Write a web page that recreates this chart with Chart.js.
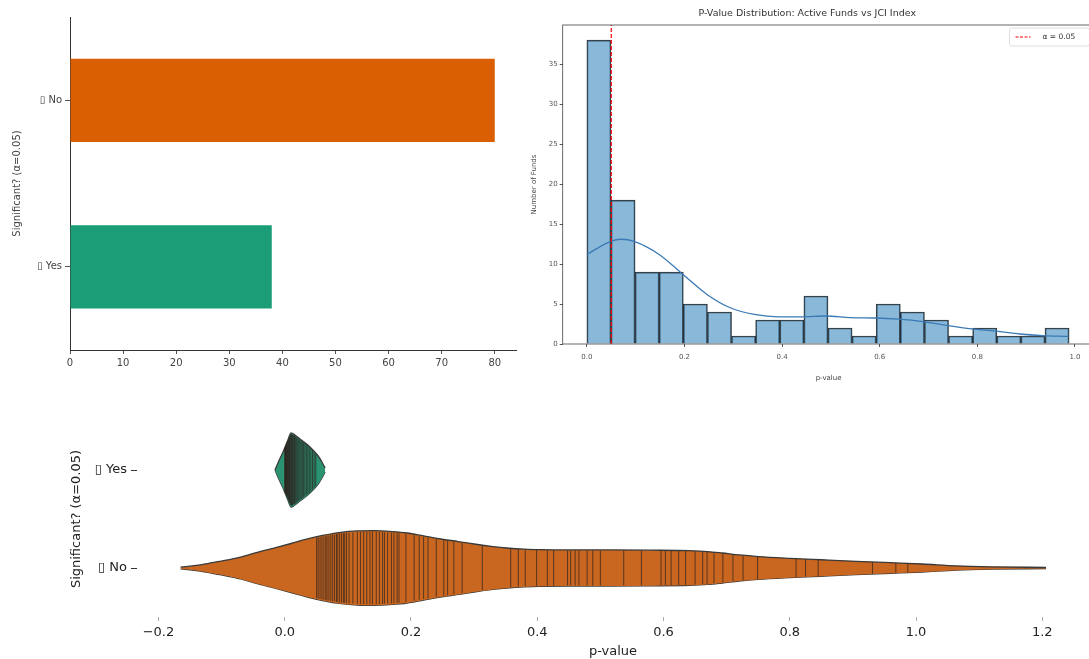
<!DOCTYPE html>
<html>
<head>
<meta charset="utf-8">
<script src="https://cdn.jsdelivr.net/npm/chart.js@4.4.1/dist/chart.umd.min.js"></script>
<style>
  html, body { margin: 0; padding: 0; background: #fff; overflow: hidden; }
  body { width: 1089px; height: 659px; position: relative; }
  .panel { position: absolute; }
</style>
</head>
<body>
<div class="panel" style="left:0;top:0;width:530px;height:380px"><canvas id="countChart"></canvas></div>
<div class="panel" style="left:520px;top:0;width:580px;height:400px"><canvas id="histChart"></canvas></div>
<div class="panel" style="left:0;top:400px;width:1089px;height:259px"><canvas id="violinChart"></canvas></div>
<script>
// ---- data ----
const sigLabels = ['\u25AF No', '\u25AF Yes'];
const sigCounts = [80, 38];
const sigColors = ['#d95f02', '#1b9e77'];
const countTicks = [0, 10, 20, 30, 40, 50, 60, 70, 80];

// histogram (20 bins)
const binEdges = [0, 0.0494, 0.0988, 0.1482, 0.1976, 0.247, 0.2964, 0.3458, 0.3952, 0.4446, 0.494,
  0.5434, 0.5928, 0.6422, 0.6916, 0.741, 0.7904, 0.8398, 0.8892, 0.9386, 0.988];
const histCounts = [38, 18, 9, 9, 5, 4, 1, 3, 3, 6, 2, 1, 5, 4, 3, 1, 2, 1, 1, 2];
const kdeX = [0, 0.048, 0.07, 0.098, 0.148, 0.197, 0.246, 0.295, 0.343, 0.393, 0.44, 0.49, 0.54,
  0.59, 0.638, 0.688, 0.74, 0.788, 0.838, 0.887, 0.934, 0.985];
const kdeY = [11.2, 12.8, 13.1, 12.8, 11.2, 8.7, 6.2, 4.5, 3.7, 3.4, 3.4, 3.5, 3.3, 3.25, 3.1, 2.8,
  2.3, 1.9, 1.6, 1.25, 1.05, 0.95];
const alphaLevel = 0.05;
const histXTicks = [0, 0.2, 0.4, 0.6, 0.8, 1.0];
const histYTicks = [0, 5, 10, 15, 20, 25, 30, 35];

// violin: p-values per group and the outline widths (category units)
const yesPValues = [0.0002, 0.0005, 0.0009, 0.0013, 0.0018, 0.0024, 0.0030, 0.0037, 0.0044, 0.0052,
  0.0060, 0.0068, 0.0076, 0.0085, 0.0094, 0.0103, 0.0112, 0.0122, 0.0132, 0.0143, 0.0155, 0.0167,
  0.0180, 0.0194, 0.0209, 0.0225, 0.0242, 0.0260, 0.0279, 0.0299, 0.0320, 0.0342, 0.0365, 0.0389,
  0.0414, 0.0440, 0.0466, 0.0492];
const noPValues = [0.0505, 0.053, 0.056, 0.059, 0.062, 0.065, 0.067, 0.070, 0.073, 0.076, 0.079, 0.082,
  0.084, 0.087, 0.090, 0.093, 0.095, 0.098, 0.102, 0.108, 0.115, 0.120, 0.125, 0.130, 0.135, 0.139,
  0.145, 0.150, 0.155, 0.158, 0.163, 0.169, 0.173, 0.178, 0.181, 0.192, 0.205, 0.213, 0.220, 0.227,
  0.240, 0.252, 0.258, 0.268, 0.281, 0.313, 0.358, 0.370, 0.381, 0.399, 0.416, 0.426, 0.448, 0.453,
  0.460, 0.466, 0.479, 0.488, 0.500, 0.537, 0.565, 0.596, 0.603, 0.612, 0.624, 0.635, 0.650, 0.662,
  0.669, 0.680, 0.694, 0.710, 0.726, 0.749, 0.810, 0.825, 0.845, 0.931, 0.968, 0.987];
const yesShapeX = [-0.0154, -0.01, -0.0027, 0.005, 0.01, 0.016, 0.024, 0.04, 0.053, 0.059, 0.064];
const yesShapeW = [0, 0.082, 0.184, 0.306, 0.378, 0.357, 0.316, 0.235, 0.143, 0.082, 0.02];
const noShapeX = [-0.165, -0.14, -0.12, -0.095, -0.07, -0.045, -0.017, 0.01, 0.036, 0.06, 0.089, 0.115,
  0.141, 0.17, 0.194, 0.22, 0.247, 0.275, 0.30, 0.33, 0.352, 0.38, 0.405, 0.45, 0.51, 0.58, 0.641,
  0.67, 0.693, 0.72, 0.75, 0.80, 0.85, 0.905, 0.96, 1.01, 1.063, 1.12, 1.206];
const noShapeW = [0.008, 0.026, 0.048, 0.077, 0.112, 0.158, 0.204, 0.25, 0.296, 0.332, 0.364, 0.378,
  0.381, 0.372, 0.357, 0.327, 0.296, 0.27, 0.245, 0.219, 0.204, 0.192, 0.187, 0.184, 0.184, 0.182,
  0.177, 0.168, 0.153, 0.133, 0.117, 0.099, 0.084, 0.068, 0.054, 0.041, 0.022, 0.012, 0.006];
const violinCats = ['\u25AF No', '\u25AF Yes'];   // at y = 0 and y = 1
const violinTicks = [-0.2, 0, 0.2, 0.4, 0.6, 0.8, 1.0, 1.2];

Chart.defaults.font.family = 'DejaVu Sans';
Chart.defaults.animation = false;

const setTicks = list => scale => { scale.ticks = list.map(v => ({ value: v })); };

// ---- top left: counts ----
new Chart(document.getElementById('countChart'), {
  type: 'bar',
  data: {
    labels: sigLabels,
    datasets: [{ data: sigCounts, backgroundColor: sigColors, barPercentage: 0.5, categoryPercentage: 1 }]
  },
  options: {
    indexAxis: 'y',
    responsive: true,
    maintainAspectRatio: false,
    layout: { padding: { top: 17, right: 14, left: 0, bottom: 0 } },
    plugins: { legend: { display: false }, tooltip: { enabled: false } },
    scales: {
      x: {
        type: 'linear', min: 0, max: 84,
        afterBuildTicks: setTicks(countTicks),
        afterFit: s => { s.height = 30; },
        grid: { drawOnChartArea: false, tickLength: 4, color: '#555' },
        border: { display: true, color: '#333', width: 1 },
        ticks: { color: '#444', font: { size: 10 }, padding: 3 }
      },
      y: {
        afterFit: s => { s.width = 70; },
        grid: { offset: false, drawOnChartArea: false, tickLength: 5, color: '#555' },
        border: { display: true, color: '#333', width: 1 },
        ticks: { color: '#444', font: { size: 10 }, padding: 3 },
        title: { display: true, text: 'Significant? (\u03B1=0.05)', color: '#444', font: { size: 10 }, padding: { top: 11, bottom: 0 } }
      }
    }
  }
});

// ---- top right: histogram ----
const framePlugin = {
  id: 'frame',
  afterDatasetsDraw(chart) {
    const { ctx, chartArea: a } = chart;
    ctx.save();
    ctx.strokeStyle = '#444';
    ctx.lineWidth = 0.8;
    ctx.strokeRect(a.left, a.top, a.right - a.left, a.bottom - a.top);
    ctx.restore();
  }
};
const alphaLegend = {
  id: 'alphaLegend',
  afterDraw(chart) {
    const { ctx, chartArea: a } = chart;
    const w = 80, h = 18, x0 = a.right - 5 - w, y0 = a.top + 3;
    ctx.save();
    ctx.fillStyle = 'rgba(255,255,255,0.85)';
    ctx.strokeStyle = '#d6d6d6';
    ctx.lineWidth = 0.8;
    ctx.beginPath();
    ctx.roundRect(x0, y0, w, h, 2);
    ctx.fill();
    ctx.stroke();
    ctx.strokeStyle = 'red';
    ctx.lineWidth = 1.2;
    ctx.setLineDash([3, 1.5]);
    ctx.beginPath();
    ctx.moveTo(x0 + 6, y0 + h / 2);
    ctx.lineTo(x0 + 21, y0 + h / 2);
    ctx.stroke();
    ctx.setLineDash([]);
    ctx.fillStyle = '#333';
    ctx.font = '7.5px "DejaVu Sans"';
    ctx.textBaseline = 'middle';
    ctx.fillText('\u03B1 = 0.05', x0 + 33, y0 + h / 2);
    ctx.restore();
  }
};

const histYMax = 39.9;
new Chart(document.getElementById('histChart'), {
  type: 'bar',
  data: {
    datasets: [
      {
        type: 'line', order: 0,
        data: [{ x: alphaLevel, y: 0 }, { x: alphaLevel, y: histYMax }],
        borderColor: 'red', borderWidth: 1.2, borderDash: [4, 2], pointRadius: 0
      },
      {
        type: 'line', order: 1,
        data: kdeX.map((x, i) => ({ x, y: kdeY[i] })),
        borderColor: '#3a7ab5', borderWidth: 1.3, pointRadius: 0, cubicInterpolationMode: 'monotone'
      },
      {
        type: 'bar', order: 2,
        data: histCounts.map((c, i) => ({ x: (binEdges[i] + binEdges[i + 1]) / 2, y: c })),
        backgroundColor: 'rgba(31,119,180,0.52)',
        borderColor: 'rgba(25,25,25,0.85)', borderWidth: 1,
        barPercentage: 1, categoryPercentage: 1
      }
    ]
  },
  options: {
    responsive: true,
    maintainAspectRatio: false,
    layout: { padding: { top: 0, right: 5.5, left: 0, bottom: 0 } },
    plugins: {
      legend: { display: false },
      tooltip: { enabled: false },
      title: {
        display: true, text: 'P-Value Distribution: Active Funds vs JCI Index',
        color: '#333', font: { size: 9.5, weight: 'normal' }, padding: { top: 8, bottom: 5.6 }
      }
    },
    scales: {
      x: {
        type: 'linear', min: -0.0495, max: 1.04, offset: false,
        afterBuildTicks: setTicks(histXTicks),
        afterFit: s => { s.height = 56; },
        grid: { offset: false, drawOnChartArea: false, tickLength: 3, color: '#555' },
        border: { display: false },
        ticks: { color: '#555', font: { size: 7 }, padding: 5.5, callback: v => v.toFixed(1) },
        title: { display: true, text: 'p-value', color: '#444', font: { size: 7 }, padding: { top: 0, bottom: 17.8 } }
      },
      y: {
        type: 'linear', min: 0, max: histYMax,
        afterBuildTicks: setTicks(histYTicks),
        afterFit: s => { s.width = 42.7; },
        grid: { drawOnChartArea: false, tickLength: 3, color: '#555' },
        border: { display: false },
        ticks: { color: '#555', font: { size: 7 }, padding: 2 },
        title: { display: true, text: 'Number of Funds', color: '#444', font: { size: 7 }, padding: { top: 10, bottom: 0 } }
      }
    }
  },
  plugins: [framePlugin, alphaLegend]
});

// ---- bottom: violin with stick inner ----
function widthAt(xs, ws, v) {
  if (v <= xs[0]) return ws[0];
  for (let i = 1; i < xs.length; i++) {
    if (v <= xs[i]) {
      const t = (v - xs[i - 1]) / (xs[i] - xs[i - 1]);
      return ws[i - 1] + t * (ws[i] - ws[i - 1]);
    }
  }
  return ws[ws.length - 1];
}
const violinGroups = [
  { pos: 0, values: noPValues, xs: noShapeX, ws: noShapeW },
  { pos: 1, values: yesPValues, xs: yesShapeX, ws: yesShapeW }
];
const sticksPlugin = {
  id: 'sticks',
  afterDatasetsDraw(chart) {
    const { ctx, scales: { x, y } } = chart;
    ctx.save();
    ctx.strokeStyle = 'rgba(45,35,30,0.8)';
    ctx.lineWidth = 0.9;
    violinGroups.forEach(g => g.values.forEach(v => {
      const w = widthAt(g.xs, g.ws, v) * 0.97;
      const px = x.getPixelForValue(v);
      ctx.beginPath();
      ctx.moveTo(px, y.getPixelForValue(g.pos + w));
      ctx.lineTo(px, y.getPixelForValue(g.pos - w));
      ctx.stroke();
    }));
    ctx.restore();
  }
};

const outline = { borderColor: '#3a3a3a', borderWidth: 1.3, pointRadius: 0, cubicInterpolationMode: 'monotone' };
new Chart(document.getElementById('violinChart'), {
  type: 'line',
  data: {
    datasets: [
      { ...outline, data: noShapeX.map((x, i) => ({ x, y: noShapeW[i] })), fill: '+1', backgroundColor: '#c9661f' },
      { ...outline, data: noShapeX.map((x, i) => ({ x, y: -noShapeW[i] })), fill: false },
      { ...outline, data: yesShapeX.map((x, i) => ({ x, y: 1 + yesShapeW[i] })), fill: '+1', backgroundColor: '#2b9272' },
      { ...outline, data: yesShapeX.map((x, i) => ({ x, y: 1 - yesShapeW[i] })), fill: false }
    ]
  },
  options: {
    responsive: true,
    maintainAspectRatio: false,
    layout: { padding: { top: 21, right: 0, left: 0, bottom: 0 } },
    plugins: { legend: { display: false }, tooltip: { enabled: false } },
    scales: {
      x: {
        type: 'linear', min: -0.234, max: 1.274,
        afterBuildTicks: setTicks(violinTicks),
        afterFit: s => { s.height = 42; },
        grid: { drawOnChartArea: false, tickLength: 4, color: '#aaa' },
        border: { display: false },
        ticks: { color: '#222', font: { size: 13 }, padding: 3.5,
          callback: v => (v < 0 ? '\u2212' : '') + Math.abs(v).toFixed(1) },
        title: { display: true, text: 'p-value', color: '#222', font: { size: 13 }, padding: { top: 0, bottom: 0 } }
      },
      y: {
        type: 'linear', min: -0.5, max: 1.5,
        afterBuildTicks: setTicks([0, 1]),
        afterFit: s => { s.width = 137; },
        grid: { drawOnChartArea: false, tickLength: 6, color: '#333' },
        border: { display: false },
        ticks: { color: '#222', font: { size: 13 }, padding: 4, callback: v => violinCats[v] },
        title: { display: true, text: 'Significant? (\u03B1=0.05)', color: '#222', font: { size: 13 }, padding: { top: 69, bottom: 0 } }
      }
    }
  },
  plugins: [sticksPlugin]
});
</script>
</body>
</html>
